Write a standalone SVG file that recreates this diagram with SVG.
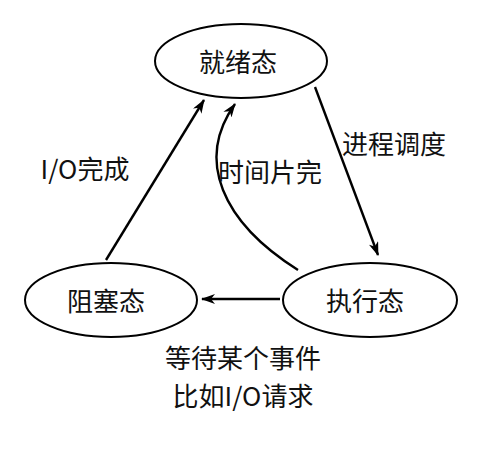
<svg xmlns="http://www.w3.org/2000/svg" width="488" height="452" viewBox="0 0 488 452">
<style>
.node ellipse{fill:#fff;stroke:#000;stroke-width:2}
text{font-family:"Noto Sans CJK SC","Noto Sans",sans-serif;font-size:26px;fill:#111;text-anchor:middle}
.edge{fill:none;stroke:#000;stroke-width:2.4;marker-end:url(#arr)}
</style>
<defs>
<marker id="arr" viewBox="0 0 14 10" refX="13" refY="5" markerWidth="14" markerHeight="10" markerUnits="userSpaceOnUse" orient="auto">
<path d="M0,0 L14,5 L0,10 L4,5 z" fill="#000"/>
</marker>
</defs>
<rect width="488" height="452" fill="#fff"/>
<g id="connectors">
<path class="edge" d="M106,260 L204,100"/>
<path class="edge" d="M298,270 C222,222 195,160 235,104"/>
<path class="edge" d="M315,87 L378,255"/>
<path class="edge" d="M280,299 L202,299"/>
</g>
<g id="ready" class="node"><ellipse cx="241" cy="61" rx="86" ry="37"/><text x="238" y="72">就绪态</text></g>
<g id="blocked" class="node"><ellipse cx="111" cy="300" rx="86" ry="37"/><text x="106" y="311">阻塞态</text></g>
<g id="running" class="node"><ellipse cx="370" cy="300" rx="87" ry="37"/><text x="365" y="311">执行态</text></g>
<g id="labels">
<text x="394" y="154">进程调度</text>
<text x="270" y="182">时间片完</text>
<text x="85" y="179">I/O完成</text>
<text x="243" y="368">等待某个事件</text>
<text x="243" y="406">比如I/O请求</text>
</g>
</svg>
